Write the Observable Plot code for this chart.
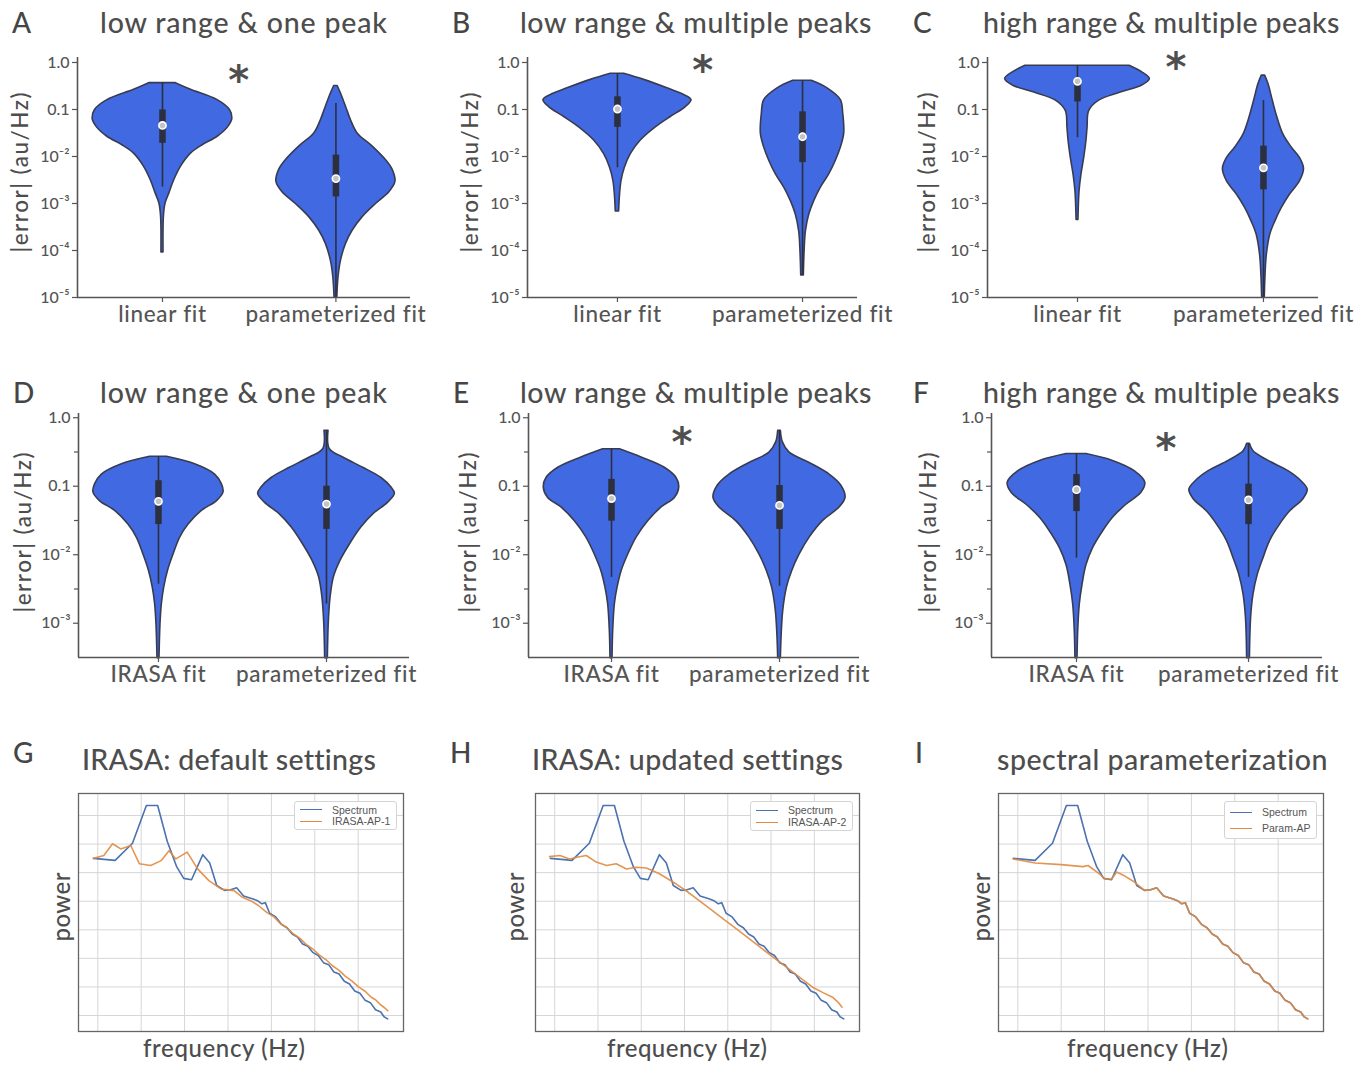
<!DOCTYPE html>
<html>
<head>
<meta charset="utf-8">
<script src="https://cdn.jsdelivr.net/npm/d3@7"></script>
<script src="https://cdn.jsdelivr.net/npm/@observablehq/plot@0.6"></script>
<style>
  html, body { margin: 0; padding: 0; background: #fff; }
  #fig { position: relative; width: 1365px; height: 1068px; overflow: hidden; font-family: Lato, sans-serif; color: #4a4a4a; }
  #fig svg { position: absolute; overflow: visible; }
  .legend { position: absolute; background: #fff; border: 1px solid #d4d4d4; border-radius: 3px; font-family: "Liberation Sans", Arial, sans-serif; font-size: 10.5px; color: #555; padding: 2px 6px 2px 5px; }
  .legend .row { display: flex; align-items: center; height: 12px; white-space: nowrap; }
  .legend .sw { width: 22px; height: 0; border-top: 1.5px solid; margin-right: 10px; }
</style>
</head>
<body>
<div id="fig"></div>
<script>
// ---------------- DATA ----------------
const topCategories = ["linear fit", "parameterized fit"];
const midCategories = ["IRASA fit", "parameterized fit"];
const panelLetters = ["A", "B", "C", "D", "E", "F", "G", "H", "I"];
const panelTitles = [
  "low range & one peak", "low range & multiple peaks", "high range & multiple peaks",
  "low range & one peak", "low range & multiple peaks", "high range & multiple peaks",
  "IRASA: default settings", "IRASA: updated settings", "spectral parameterization"
];
const yLabelViolin = "|error| (au/Hz)";
const topYTicks = [1, 0.1, 0.01, 0.001, 0.0001, 0.00001];
const topYTickLabels = ["1.0", "0.1", "10⁻²", "10⁻³", "10⁻⁴", "10⁻⁵"];
const midYTicks = [1, 0.1, 0.01, 0.001];
const midYTickLabels = ["1.0", "0.1", "10⁻²", "10⁻³"];
const midYMinorTicks = [0.316, 0.0316, 0.00316];

// violin outlines: [log10 |error|, half-width (in category units)]
const violinA_linear = [[-0.44,0.077],[-0.58,0.164],[-0.80,0.318],[-1.01,0.389],[-1.19,0.403],[-1.37,0.380],[-1.58,0.318],[-1.76,0.231],[-1.94,0.164],[-2.22,0.106],[-2.51,0.067],[-2.79,0.039],[-3.01,0.017],[-3.29,0.008],[-4.04,0.006]];
const violinA_param  = [[-0.50,0.010],[-0.66,0.029],[-0.94,0.058],[-1.23,0.087],[-1.51,0.125],[-1.79,0.212],[-2.08,0.289],[-2.29,0.328],[-2.54,0.343],[-2.76,0.308],[-3.01,0.231],[-3.29,0.154],[-3.58,0.096],[-3.86,0.058],[-4.22,0.029],[-4.57,0.015],[-5.0,0.008]];
const violinB_linear = [[-0.24,0.036],[-0.37,0.144],[-0.55,0.270],[-0.69,0.360],[-0.80,0.400],[-0.95,0.369],[-1.16,0.288],[-1.38,0.207],[-1.66,0.126],[-1.95,0.072],[-2.24,0.040],[-2.52,0.022],[-2.81,0.014],[-3.17,0.009]];
const violinB_param  = [[-0.39,0.050],[-0.55,0.135],[-0.80,0.207],[-1.09,0.220],[-1.52,0.225],[-1.81,0.207],[-2.09,0.180],[-2.38,0.144],[-2.66,0.099],[-2.95,0.063],[-3.24,0.036],[-3.60,0.018],[-4.03,0.011],[-4.53,0.007]];
const violinC_linear = [[-0.07,0.280],[-0.21,0.348],[-0.35,0.389],[-0.49,0.348],[-0.64,0.232],[-0.81,0.116],[-1.03,0.063],[-1.39,0.054],[-1.67,0.048],[-2.03,0.036],[-2.39,0.021],[-2.74,0.011],[-3.35,0.005]];
const violinC_param  = [[-0.28,0.009],[-0.46,0.027],[-0.81,0.050],[-1.17,0.075],[-1.53,0.107],[-1.81,0.152],[-2.03,0.196],[-2.26,0.218],[-2.53,0.196],[-2.81,0.143],[-3.10,0.098],[-3.39,0.063],[-3.67,0.036],[-4.10,0.018],[-4.53,0.011],[-5.0,0.007]];
const violinD_irasa  = [[-0.57,0.050],[-0.68,0.218],[-0.83,0.337],[-0.97,0.377],[-1.09,0.387],[-1.22,0.347],[-1.36,0.258],[-1.56,0.179],[-1.75,0.129],[-2.0,0.089],[-2.24,0.056],[-2.48,0.034],[-2.72,0.020],[-3.01,0.012],[-3.51,0.006]];
const violinD_param  = [[-0.19,0.012],[-0.46,0.020],[-0.58,0.099],[-0.73,0.218],[-0.88,0.327],[-1.02,0.387],[-1.11,0.407],[-1.24,0.367],[-1.41,0.278],[-1.60,0.208],[-1.85,0.139],[-2.09,0.083],[-2.33,0.044],[-2.63,0.024],[-2.97,0.014],[-3.51,0.008]];
const violinE_irasa  = [[-0.46,0.050],[-0.58,0.179],[-0.73,0.317],[-0.88,0.387],[-1.02,0.403],[-1.17,0.377],[-1.31,0.298],[-1.51,0.218],[-1.75,0.149],[-2.0,0.099],[-2.24,0.060],[-2.48,0.036],[-2.72,0.020],[-3.11,0.010],[-3.51,0.006]];
const violinE_param  = [[-0.19,0.008],[-0.36,0.020],[-0.51,0.060],[-0.66,0.179],[-0.83,0.298],[-0.99,0.367],[-1.17,0.393],[-1.31,0.357],[-1.51,0.258],[-1.75,0.179],[-2.0,0.119],[-2.24,0.075],[-2.48,0.044],[-2.82,0.022],[-3.21,0.012],[-3.51,0.008]];
const violinF_irasa  = [[-0.53,0.058],[-0.63,0.212],[-0.78,0.338],[-0.95,0.400],[-1.10,0.376],[-1.27,0.290],[-1.46,0.212],[-1.66,0.154],[-1.90,0.097],[-2.15,0.058],[-2.44,0.035],[-2.73,0.019],[-3.11,0.010],[-3.51,0.006]];
const violinF_param  = [[-0.38,0.008],[-0.49,0.029],[-0.63,0.116],[-0.78,0.232],[-0.93,0.309],[-1.05,0.344],[-1.19,0.319],[-1.37,0.241],[-1.56,0.183],[-1.80,0.125],[-2.05,0.087],[-2.29,0.054],[-2.58,0.029],[-2.92,0.015],[-3.51,0.008]];

// box stats per violin: [whisker low, q1, median, q3, whisker high] in log10 |error|
const statsA = [[-2.65,-1.72,-1.34,-1.01,-0.44],[-5.0,-2.86,-2.47,-1.97,-0.87]];
const statsB = [[-2.24,-1.38,-0.99,-0.73,-0.24],[-4.53,-2.13,-1.58,-1.05,-0.39]];
const statsC = [[-1.60,-0.84,-0.40,-0.36,-0.07],[-5.0,-2.71,-2.24,-1.78,-0.81]];
const statsD = [[-2.43,-1.56,-1.22,-0.92,-0.57],[-2.72,-1.63,-1.26,-1.00,-0.19]];
const statsE = [[-2.33,-1.51,-1.18,-0.90,-0.46],[-2.46,-1.63,-1.28,-0.99,-0.19]];
const statsF = [[-2.05,-1.37,-1.05,-0.83,-0.53],[-2.33,-1.56,-1.20,-0.97,-0.38]];

// significance stars: [x between categories, log10 |error|]
const starA = [[0.44,-0.23]];
const starB = [[0.46,-0.02]];
const starC = [[0.53,0.04]];
const starE = [[0.42,-0.26]];
const starF = [[0.52,-0.34]];

// spectra (frequency in Hz, log10 power)
const spectrumFreq  = [4.5,7.0,9.0,10.6,11.9,13.0,14.1,14.9,15.8,17.1,17.9,18.7,19.6,20.3,21.0,21.8,22.9,23.4,23.9,24.3,24.8,25.5,26.2,26.8,27.4,28.0,28.6,29.2,29.8,30.4,31.0,31.6,32.2,32.8,33.4,34.0,34.6,35.2,35.8,36.4,37.0,37.6,38.0,38.4];
const spectrumPower = [-1.50,-1.57,-0.97,0.35,0.35,-0.90,-1.80,-2.20,-2.25,-1.37,-1.66,-2.45,-2.62,-2.60,-2.53,-2.82,-2.92,-2.98,-3.09,-3.05,-3.42,-3.55,-3.82,-3.93,-4.15,-4.25,-4.50,-4.58,-4.80,-4.90,-5.15,-5.22,-5.48,-5.55,-5.80,-5.90,-6.14,-6.22,-6.47,-6.55,-6.80,-6.88,-7.05,-7.12];
const irasaAP1Freq  = [4.5,5.7,6.7,7.65,8.8,9.8,11.1,12.3,13.2,14.0,15.3,16.5,17.8,19.2,20.7,21.6,22.6,23.5,24.5,25.3,26.0,26.8,27.5,28.3,29.0,29.8,30.5,31.3,32.0,32.8,33.5,34.3,35.0,35.8,36.5,37.0,37.5,38.0,38.4];
const irasaAP1Power = [-1.50,-1.40,-0.99,-1.17,-1.05,-1.69,-1.75,-1.58,-1.23,-1.52,-1.28,-1.87,-2.28,-2.57,-2.63,-2.85,-2.98,-3.15,-3.40,-3.55,-3.77,-3.93,-4.14,-4.30,-4.51,-4.68,-4.88,-5.05,-5.25,-5.42,-5.62,-5.80,-5.99,-6.15,-6.36,-6.45,-6.60,-6.72,-6.83];
const irasaAP2Freq  = [4.4,5.6,6.7,7.7,8.65,9.8,11.0,12.1,13.3,14.4,15.6,17.1,19.0,20.3,21.7,23.0,24.5,26.0,27.5,29.0,30.5,32.0,33.5,34.8,36.0,37.1,37.8,38.2];
const irasaAP2Power = [-1.44,-1.40,-1.52,-1.45,-1.40,-1.63,-1.75,-1.69,-1.87,-1.81,-1.84,-2.04,-2.39,-2.66,-2.98,-3.28,-3.63,-3.97,-4.32,-4.67,-5.02,-5.36,-5.71,-6.01,-6.20,-6.36,-6.55,-6.71];
const paramAPFreq  = [4.46,7.0,10.0,12.5,13.1,14.4,15.0,15.8,16.4,17.1,18.3,19.6,20.3,21.0,21.8,22.9,23.4,23.9,24.3,24.8,25.5,26.2,26.8,27.4,28.0,28.6,29.2,29.8,30.4,31.0,31.6,32.2,32.8,33.4,34.0,34.6,35.2,35.8,36.4,37.0,37.6,38.0,38.4];
const paramAPPower = [-1.52,-1.66,-1.72,-1.79,-1.75,-2.04,-2.22,-2.22,-1.98,-2.08,-2.30,-2.62,-2.60,-2.53,-2.82,-2.92,-2.98,-3.09,-3.05,-3.42,-3.55,-3.82,-3.93,-4.15,-4.25,-4.50,-4.58,-4.80,-4.90,-5.15,-5.22,-5.48,-5.55,-5.80,-5.90,-6.14,-6.22,-6.47,-6.55,-6.80,-6.88,-7.05,-7.12];
const fitNames = ["IRASA-AP-1", "IRASA-AP-2", "Param-AP"];
const specXGrid = [5, 10, 15, 20, 25, 30, 35];
const specYGrid = [0, -1, -2, -3, -4, -5, -6, -7];

// ---------------- STYLE ----------------
const violinFill = "#4169e1";
const violinStroke = "#393c50";
const boxColor = "#2c2f3d";
const axisColor = "#555";
const specBlue = "#4c72b0";
const specOrange = "#e1893f";

const fig = document.getElementById("fig");

function addText(str, o) {
  const s = document.createElement("div");
  s.textContent = str;
  Object.assign(s.style, {position: "absolute", whiteSpace: "nowrap", fontSize: o.size + "px", lineHeight: "1",
    color: o.color || "#4a4a4a", fontFamily: "Lato, sans-serif", fontWeight: o.weight || 500, left: "0px", top: "0px"});
  const probe = document.createElement("span");
  Object.assign(probe.style, {display: "inline-block", width: "0px", height: "0px", verticalAlign: "baseline"});
  s.appendChild(probe);
  fig.appendChild(s);
  let w = s.getBoundingClientRect().width;
  if (o.width) {
    const ls = (o.width - w) / Math.max(1, str.length - 1);
    s.style.letterSpacing = ls + "px";
    w = o.width;
  }
  const h = s.offsetHeight;
  if (o.rotate) {
    s.style.left = (o.cx - w / 2) + "px";
    s.style.top = (o.cy - h / 2) + "px";
    s.style.transformOrigin = (w / 2) + "px " + (h / 2) + "px";
    s.style.transform = "rotate(-90deg)";
  } else {
    const base = probe.offsetTop;
    const left = o.anchor === "start" ? o.x : o.x - w / 2;
    s.style.left = left + "px";
    s.style.top = (o.baseline - base) + "px";
  }
  return s;
}

function mount(svg, left, top) {
  svg.style.left = left + "px";
  svg.style.top = top + "px";
  fig.appendChild(svg);
}

function violinPlot(cfg) {
  const area = cfg.shapes.flatMap((s, i) => s.map(([lv, w]) => ({i, y: Math.pow(10, lv), x1: i - w, x2: i + w})));
  const st = cfg.stats.map(([lo, q1, med, q3, hi], i) => ({i, lo: Math.pow(10, lo), q1: Math.pow(10, q1), med: Math.pow(10, med), q3: Math.pow(10, q3), hi: Math.pow(10, hi)}));
  const labelMap = new Map(cfg.yTicks.map((t, k) => [t, cfg.yTickLabels[k]]));
  const marks = [
    Plot.areaX(area, {y: "y", x1: "x1", x2: "x2", z: "i", fill: violinFill, stroke: violinStroke, strokeWidth: 1.6, curve: "catmull-rom"}),
    Plot.ruleX(st, {x: "i", y1: "lo", y2: "hi", stroke: boxColor, strokeWidth: 1.6}),
    Plot.ruleX(st, {x: "i", y1: "q1", y2: "q3", stroke: boxColor, strokeWidth: 6.5}),
    Plot.dot(st, {x: "i", y: "med", r: 3.6, fill: "#c4c4c4", stroke: "#fff", strokeWidth: 1.6}),
    Plot.ruleX([cfg.xDomain[0]], {stroke: axisColor, strokeWidth: 1.6}),
    Plot.ruleY([cfg.yDomain[0]], {stroke: axisColor, strokeWidth: 1.6}),
    Plot.axisY({ticks: cfg.yTicks, tickFormat: d => labelMap.get(d), tickSize: 5, tickPadding: 3, fontSize: 16, label: null, stroke: axisColor, strokeWidth: 1.2}),
    Plot.axisX({ticks: [0, 1], tickFormat: d => cfg.cats[d], tickSize: 5, tickPadding: 4, fontSize: 22.5, label: null, stroke: axisColor, strokeWidth: 1.2})
  ];
  if (cfg.minor) marks.push(Plot.axisY({ticks: cfg.minor, tickFormat: () => "", tickSize: 4, label: null, stroke: axisColor, strokeWidth: 1.2}));
  if (cfg.star) marks.push(Plot.text(cfg.star, {x: d => d[0], y: d => Math.pow(10, d[1]), text: () => "*", fontSize: 40, fontWeight: 700, fontFamily: "DejaVu Sans", fill: "#4f4f4f", dy: 8}));
  const svg = Plot.plot({
    width: cfg.marginLeft + cfg.plotWidth + 40,
    height: cfg.marginTop + cfg.plotHeight + 50,
    marginLeft: cfg.marginLeft, marginRight: 40, marginTop: cfg.marginTop, marginBottom: 50,
    x: {domain: cfg.xDomain, axis: null},
    y: {type: "log", domain: cfg.yDomain, axis: null},
    style: {fontFamily: "Lato, sans-serif", fontWeight: 500, color: "#555", background: "transparent", overflow: "visible"},
    marks
  });
  svg.querySelectorAll('[aria-label="x-axis tick label"] text').forEach(t => t.setAttribute("letter-spacing", "0.7"));
  mount(svg, cfg.left, cfg.top);
}

function spectrumPlot(cfg) {
  const spec = spectrumFreq.map((f, k) => ({f, p: spectrumPower[k]}));
  const fit = cfg.fitFreq.map((f, k) => ({f, p: cfg.fitPower[k]}));
  const svg = Plot.plot({
    width: 78 + cfg.plotWidth + 10, height: 10 + 238 + 10,
    marginLeft: 78, marginRight: 10, marginTop: 10, marginBottom: 10,
    x: {domain: [2.78, 40.22], axis: null},
    y: {domain: [-7.56, 0.77], axis: null},
    style: {fontFamily: "Lato, sans-serif", background: "transparent", overflow: "visible"},
    marks: [
      Plot.ruleX(specXGrid, {stroke: "#d6d6d6", strokeWidth: 1}),
      Plot.ruleY(specYGrid, {stroke: "#d6d6d6", strokeWidth: 1}),
      Plot.line(spec, {x: "f", y: "p", stroke: specBlue, strokeWidth: 1.6}),
      Plot.line(fit, {x: "f", y: "p", stroke: specOrange, strokeWidth: 1.6, strokeOpacity: 0.9}),
      Plot.frame({stroke: "#666", strokeWidth: 1.3})
    ]
  });
  mount(svg, cfg.left, cfg.top);
  // legend
  const lg = document.createElement("div");
  lg.className = "legend";
  [["Spectrum", specBlue], [cfg.fitName, specOrange]].forEach(([name, col]) => {
    const r = document.createElement("div");
    r.className = "row";
    r.style.height = cfg.legendRow + "px";
    const sw = document.createElement("div");
    sw.className = "sw";
    sw.style.borderTopColor = col;
    const tx = document.createElement("span");
    tx.textContent = name;
    r.appendChild(sw); r.appendChild(tx);
    lg.appendChild(r);
  });
  fig.appendChild(lg);
  lg.style.left = (cfg.left + 78 + cfg.plotWidth - 6 - lg.offsetWidth) + "px";
  lg.style.top = (cfg.top + 10 + 8) + "px";
}

// ---------------- ROW 1 ----------------
const row1 = {top: 30, marginTop: 27, plotHeight: 240, yDomain: [1e-5, 1.277], yTicks: topYTicks, yTickLabels: topYTickLabels, cats: topCategories, marginLeft: 77};
violinPlot({...row1, left: 0,   plotWidth: 333, xDomain: [-0.49, 1.43],   shapes: [violinA_linear, violinA_param], stats: statsA, star: starA});
violinPlot({...row1, left: 450, plotWidth: 330, xDomain: [-0.486, 1.297], shapes: [violinB_linear, violinB_param], stats: statsB, star: starB});
violinPlot({...row1, left: 910, plotWidth: 331, xDomain: [-0.484, 1.296], shapes: [violinC_linear, violinC_param], stats: statsC, star: starC});

// ---------------- ROW 2 ----------------
const row2 = {top: 386, marginTop: 27, plotHeight: 244, yDomain: [0.000316, 1.153], yTicks: midYTicks, yTickLabels: midYTickLabels, minor: midYMinorTicks, cats: midCategories, marginLeft: 78};
violinPlot({...row2, left: 0,   plotWidth: 331, xDomain: [-0.476, 1.494], shapes: [violinD_irasa, violinD_param], stats: statsD});
violinPlot({...row2, left: 450, plotWidth: 331, xDomain: [-0.494, 1.476], shapes: [violinE_irasa, violinE_param], stats: statsE, star: starE});
violinPlot({...row2, left: 913, plotWidth: 331, xDomain: [-0.494, 1.43],  shapes: [violinF_irasa, violinF_param], stats: statsF, star: starF});

// ---------------- ROW 3 ----------------
spectrumPlot({left: 0,   top: 783, plotWidth: 325, fitFreq: irasaAP1Freq, fitPower: irasaAP1Power, fitName: fitNames[0], legendRow: 11.5});
spectrumPlot({left: 457, top: 783, plotWidth: 324, fitFreq: irasaAP2Freq, fitPower: irasaAP2Power, fitName: fitNames[1], legendRow: 12});
spectrumPlot({left: 920, top: 783, plotWidth: 325, fitFreq: paramAPFreq,  fitPower: paramAPPower,  fitName: fitNames[2], legendRow: 16});

// ---------------- TEXT ----------------
const letterPos = [[12,33],[452,33],[913,33],[13,403],[453,403],[913,403],[13,763],[450,763],[915,763]];
letterPos.forEach(([x, b], k) => addText(panelLetters[k], {x, baseline: b, size: 28, anchor: "start", color: "#454545"}));
const titlePos = [[243.5,33,287],[696,33,352],[1161.5,33,357],[243.5,403,287],[696,403,352],[1161.5,403,357],[228.5,770,293],[687,770,310],[1162.5,770,331]];
titlePos.forEach(([x, b, w], k) => addText(panelTitles[k], {x, baseline: b, size: 28.5, width: w, color: "#4d4d4d"}));
[[20,172],[470,172],[927,172],[23,532],[468,532],[928,532]].forEach(([cx, cy]) => addText(yLabelViolin, {rotate: true, cx, cy, size: 22.5, width: 160, color: "#4d4d4d"}));
[[60,907],[514,907],[980,907]].forEach(([cx, cy]) => addText("power", {rotate: true, cx, cy, size: 24, width: 69, color: "#4d4d4d"}));
[[224,1057,162],[687,1057,160],[1147.5,1057,161]].forEach(([x, b, w]) => addText("frequency (Hz)", {x, baseline: b, size: 24, width: w, color: "#4d4d4d"}));
</script>
</body>
</html>
